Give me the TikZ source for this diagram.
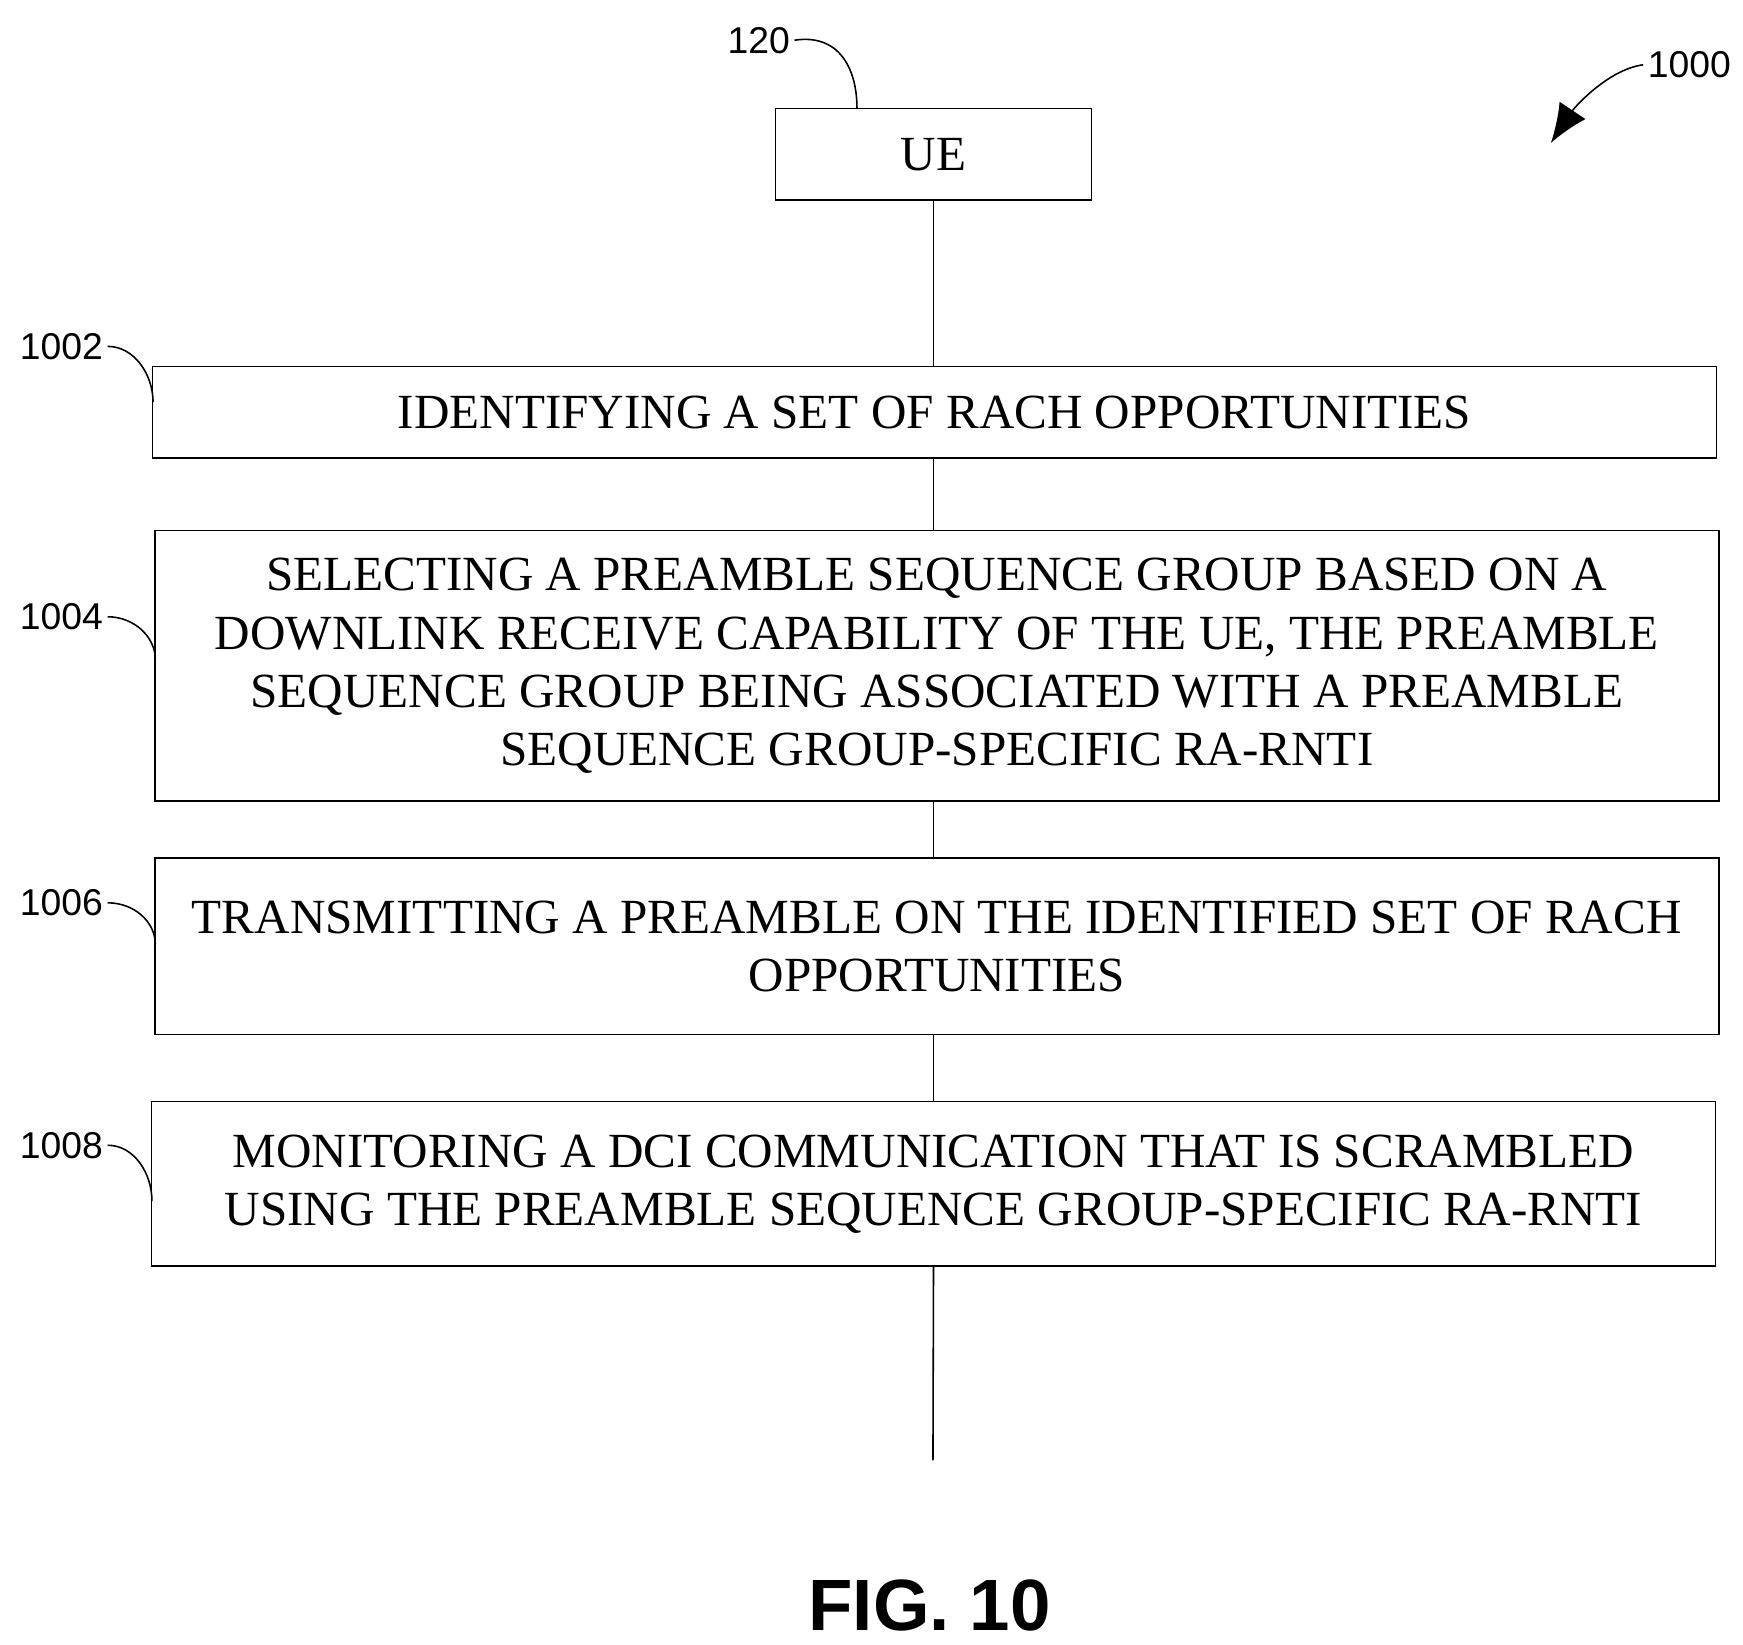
\documentclass[tikz,border=0pt]{standalone}
\usepackage{fontspec}
\setmainfont{Liberation Serif}
\setsansfont{Liberation Sans}
\usetikzlibrary{arrows.meta}
\begin{document}
\begin{tikzpicture}[x=0.01cm,y=-0.01cm]
    \tikzstyle{flowbox}=[draw,inner sep=0pt,align=center,font=\fontsize{12.5}{14.8}\selectfont]
    \tikzstyle{ref}=[font=\sffamily\fontsize{9.5}{11}\selectfont,inner sep=1pt]
    \useasboundingbox (0,0) rectangle (1560,1472);

    %% Boxes
    \node [flowbox,minimum width=2.83cm,minimum height=0.82cm] (ue) at (835.5,138) {UE};
    \node [flowbox,minimum width=13.99cm,minimum height=0.82cm] (s1) at (836.5,369) {IDENTIFYING A SET OF RACH OPPORTUNITIES};
    \node [flowbox,minimum width=13.99cm,minimum height=2.42cm] (s2) at (838.5,596) {SELECTING A PREAMBLE SEQUENCE GROUP BASED ON A\\DOWNLINK RECEIVE CAPABILITY OF THE UE, THE PREAMBLE\\SEQUENCE GROUP BEING ASSOCIATED WITH A PREAMBLE\\SEQUENCE GROUP-SPECIFIC RA-RNTI};
    \node [flowbox,minimum width=13.99cm,minimum height=1.58cm] (s3) at (838.5,847) {TRANSMITTING A PREAMBLE ON THE IDENTIFIED SET OF RACH\\OPPORTUNITIES};
    \node [flowbox,minimum width=13.99cm,minimum height=1.47cm] (s4) at (835.5,1059.5) {MONITORING A DCI COMMUNICATION THAT IS SCRAMBLED\\USING THE PREAMBLE SEQUENCE GROUP-SPECIFIC RA-RNTI};
    \coordinate (end) at (835,1307);

    %% Lifeline
    \draw (ue.south) -- (ue.south |- s1.north);
    \draw (ue.south |- s1.south) -- (ue.south |- s2.north);
    \draw (ue.south |- s2.south) -- (ue.south |- s3.north);
    \draw (ue.south |- s3.south) -- (ue.south |- s4.north);
    \draw (ue.south |- s4.south) -- (end);

    %% Reference labels
    \node [ref] (l120) at (679,36) {120};
    \draw (l120.east) .. controls (750,30) and (767,60) .. (767,97);
    \node [ref] (l1002) at (55,310) {1002};
    \draw (l1002.east) .. controls (120,310) and (137,335) .. (137,360);
    \node [ref] (l1004) at (55,552) {1004};
    \draw (l1004.east) .. controls (120,552) and (139,570) .. (139,590);
    \node [ref] (l1006) at (55,808) {1006};
    \draw (l1006.east) .. controls (120,808) and (139,825) .. (139,845);
    \node [ref] (l1008) at (55,1025) {1008};
    \draw (l1008.east) .. controls (120,1025) and (136,1050) .. (136,1075);
    \node [ref] (l1000) at (1512,58) {1000};
    \draw [-{Latex[length=0.35cm,width=0.28cm]}] (l1000.west) .. controls (1440,62) and (1410,95) .. (1388,128);

    \node [font=\sffamily\bfseries\fontsize{18.5}{22}\selectfont] (fig) at (832,1437) {FIG. 10};
\end{tikzpicture}
\end{document}
